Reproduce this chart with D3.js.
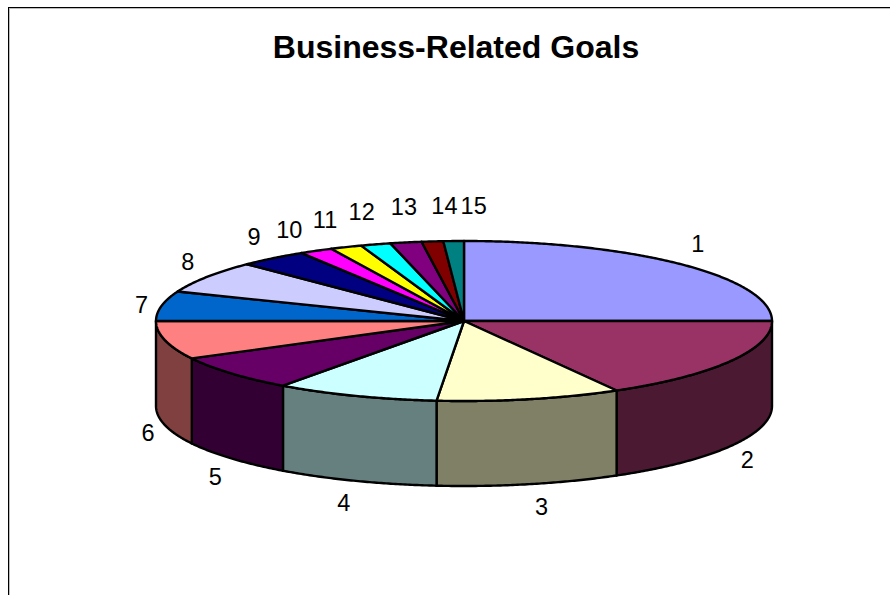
<!DOCTYPE html>
<html>
<head>
<meta charset="utf-8">
<title>Business-Related Goals</title>
<script src="https://cdn.jsdelivr.net/npm/d3@7"></script>
<style>
  html, body { margin: 0; padding: 0; background: #fff; overflow: hidden; }
  svg { display: block; }
  text { font-family: "Liberation Sans", Arial, sans-serif; fill: #000; }
</style>
</head>
<body>
<svg id="chart" width="890" height="595"></svg>
<script>
const titleText = "Business-Related Goals";
const categories = ["1","2","3","4","5","6","7","8","9","10","11","12","13","14","15"];
const shares = [25, 16.75, 9.67, 8.58, 7.25, 7.75, 6, 6.56, 3.6, 1.75, 1.67, 1.58, 1.64, 1.13, 1.07];
const topColours = ["#9999FF","#993366","#FFFFCC","#CCFFFF","#660066","#FF8080","#0066CC","#CCCCFF","#000080","#FF00FF","#FFFF00","#00FFFF","#800080","#800000","#008080"];
const wallColours = ["#4C4C80","#4C1933","#808066","#668080","#330033","#804040","#003366","#666680","#000040","#800080","#808000","#008080","#400040","#400000","#004040"];

// Label displacement from the rim point at each slice's middle angle.
const labelOffsets = [[16,-21],[17,13],[12,22],[-12,22],[-16,18],[-17,7],[-20,-1],[-19,-15],[-19,-22],[-27,-21],[-21,-28],[-14,-33],[-2,-36],[12,-36],[20,-36]];

const cx = 464, cy = 321, rx = 308, ry = 80, depth = 85;
const halfTurn = Math.PI;

const svg = d3.select("#chart");

// Chart frame: it runs past the right and bottom edges of the page.
svg.append("rect").attr("x", 9.5).attr("y", 8.5).attr("width", 900).attr("height", 620)
  .attr("fill", "none").attr("stroke", "#bdbdbd").attr("stroke-width", 1);
svg.append("rect").attr("x", 8.5).attr("y", 7.5).attr("width", 900).attr("height", 620)
  .attr("fill", "none").attr("stroke", "#000").attr("stroke-width", 1);

svg.append("text").attr("x", 456).attr("y", 58).attr("text-anchor", "middle")
  .attr("font-size", 32).attr("font-weight", "bold").text(titleText);

const arcs = d3.pie().sort(null).value(d => d)(shares);

// Projection of an angle (clockwise from twelve o'clock) onto the tilted disc.
const rimX = d3.scaleLinear().domain([-1, 1]).range([cx - rx, cx + rx]);
const rimY = d3.scaleLinear().domain([-1, 1]).range([cy + ry, cy - ry]);
const rim = (a, drop = 0) => [rimX(Math.sin(a)), rimY(Math.cos(a)) + drop];

const line = d3.line();
const sweep = (a0, a1) => {
  const n = Math.max(2, Math.ceil((a1 - a0) / 0.008));
  return d3.range(n + 1).map(i => a0 + (a1 - a0) * i / n);
};

// Only the front half of the disc shows its wall.
const frontArcs = arcs
  .map((d, i) => ({ i, a0: Math.max(d.startAngle, halfTurn / 2), a1: Math.min(d.endAngle, halfTurn * 1.5) }))
  .filter(d => d.a1 > d.a0 + 1e-6);

svg.append("g").selectAll("path").data(frontArcs).join("path")
  .attr("d", d => {
    const angles = sweep(d.a0, d.a1);
    return line([...angles.map(a => rim(a)), ...angles.slice().reverse().map(a => rim(a, depth))]) + "Z";
  })
  .attr("fill", d => wallColours[d.i])
  .attr("stroke", "#000").attr("stroke-width", 2.4).attr("stroke-linejoin", "round");

svg.append("g").selectAll("path").data(arcs).join("path")
  .attr("d", d => line([[cx, cy], ...sweep(d.startAngle, d.endAngle).map(a => rim(a))]) + "Z")
  .attr("fill", (d, i) => topColours[i])
  .attr("stroke", "#000").attr("stroke-width", 2.4).attr("stroke-linejoin", "round");

svg.append("g").selectAll("text").data(arcs).join("text")
  .attr("x", (d, i) => rim((d.startAngle + d.endAngle) / 2)[0] + labelOffsets[i][0])
  .attr("y", (d, i) => {
    const mid = (d.startAngle + d.endAngle) / 2;
    const front = mid > halfTurn / 2 && mid < halfTurn * 1.5;
    return rim(mid, front ? depth : 0)[1] + labelOffsets[i][1];
  })
  .attr("text-anchor", "middle").attr("dy", "0.36em")
  .attr("font-size", 23.5).text((d, i) => categories[i]);
</script>
</body>
</html>
